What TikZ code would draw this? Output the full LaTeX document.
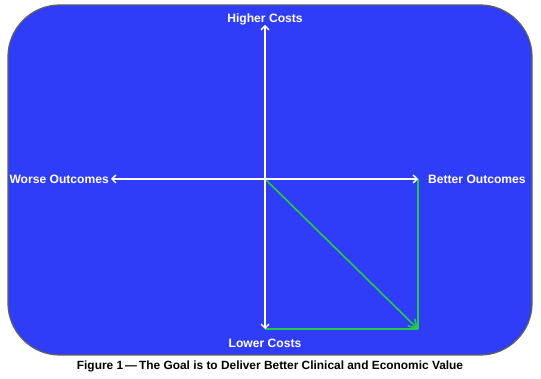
\documentclass[tikz,border=0pt]{standalone}
\usepackage{fontspec}
\setmainfont{Liberation Sans}
\usetikzlibrary{arrows.meta}
\definecolor{bgblue}{HTML}{303DF8}
\definecolor{edgegray}{HTML}{5A5F6A}
\definecolor{lgreen}{HTML}{22CC44}
\tikzset{
  lbl/.style={text=white, font=\bfseries\fontsize{12.1}{14}\selectfont, inner sep=0pt},
  axis/.style={white, line width=1.3pt, -{Straight Barb[length=4pt,width=8pt,line width=1.3pt]}},
  grn/.style={lgreen, line width=1.6pt},
}
\begin{document}
\begin{tikzpicture}[x=1pt,y=-1pt]
\useasboundingbox (0,0) rectangle (541,379);
\fill[white] (0,0) rectangle (541,379);
\draw[edgegray, line width=1.3pt, fill=bgblue, rounded corners=52pt] (8,5) rectangle (532,355);
\coordinate (o) at (265,179);
\coordinate (up) at (265,25);
\coordinate (dn) at (265,329);
\coordinate (lt) at (111,179);
\coordinate (rt) at (418,179);
\coordinate (br) at (418,329);
\node[lbl] (hc) at (265,19) {Higher Costs};
\node[lbl] (lc) at (265,343) {Lower Costs};
\node[lbl, anchor=east] (wo) at (109,179) {Worse Outcomes};
\node[lbl, anchor=west] (bo) at (428,179) {Better Outcomes};
\draw[grn] (rt) -- (br);
\draw[grn] (dn) -- (br);
\draw[grn, -{Straight Barb[length=8pt,width=10pt,line width=1.6pt]}] (o) -- (br);
\draw[axis] (o) -- (up);
\draw[axis] (o) -- (dn);
\draw[axis] (o) -- (lt);
\draw[axis] (o) -- (rt);
\node[font=\bfseries\fontsize{11.9}{14}\selectfont, inner sep=0pt] (cap) at (270,366) {Figure 1\,—\,The Goal is to Deliver Better Clinical and Economic Value};
\end{tikzpicture}
\end{document}
